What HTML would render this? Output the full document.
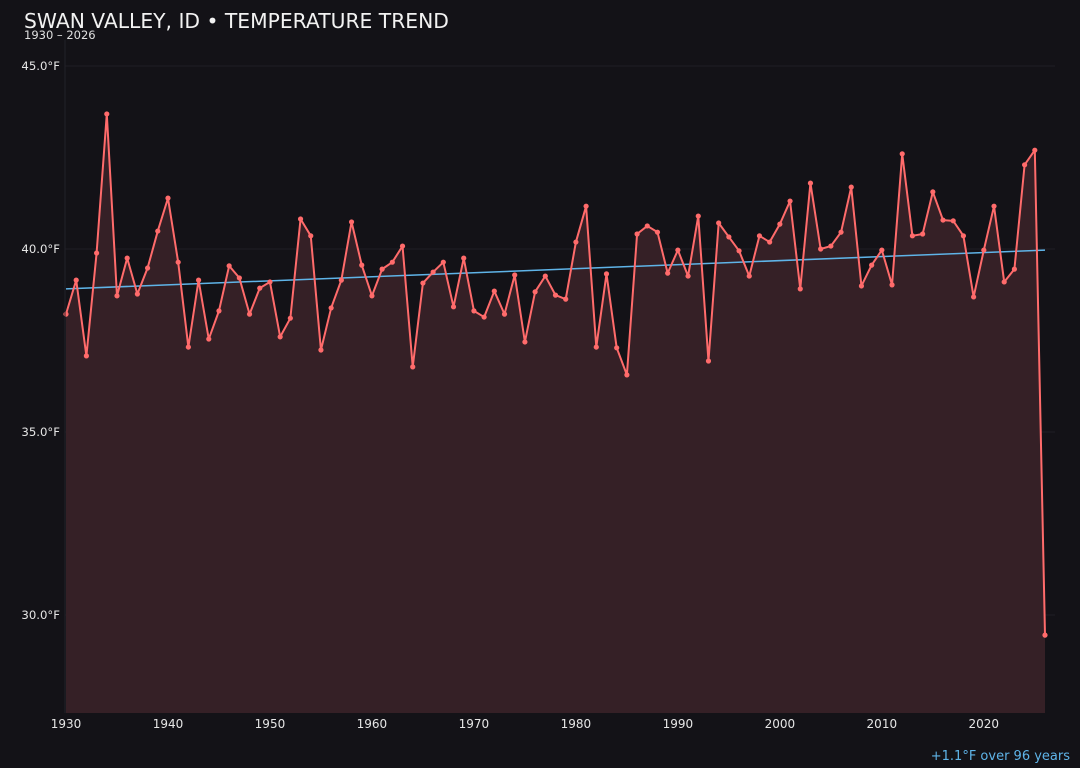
<!DOCTYPE html>
<html><head><meta charset="utf-8"><style>
html,body{margin:0;padding:0;background:#131217;width:1080px;height:768px;overflow:hidden;font-family:"DejaVu Sans","Liberation Sans",sans-serif}
svg text{font-family:"DejaVu Sans","Liberation Sans",sans-serif}
</style></head><body>
<svg id="chart" width="1080" height="768" xmlns="http://www.w3.org/2000/svg">
<rect width="1080" height="768" fill="#131217"/>
<text x="24" y="28" fill="#f2f2f2" font-size="20.3">SWAN VALLEY, ID • TEMPERATURE TREND</text>
<text x="24" y="39" fill="#e0e0e0" font-size="11.5">1930 – 2026</text>
<g id="grid"></g><g id="marks"></g><g id="axes"></g>
<text x="1070" y="760" text-anchor="end" fill="#5fb4e8" font-size="13">+1.1°F over 96 years</text>
</svg>
<script>
const startYear = 1930;
const temps = [38.22,39.15,37.08,39.89,43.69,38.72,39.75,38.77,39.48,40.49,41.39,39.64,37.32,39.15,37.54,38.31,39.54,39.21,38.22,38.93,39.1,37.6,38.11,40.82,40.36,37.24,38.39,39.15,40.74,39.56,38.72,39.45,39.64,40.08,36.78,39.07,39.37,39.64,38.42,39.75,38.31,38.14,38.85,38.22,39.29,37.46,38.83,39.26,38.74,38.63,40.19,41.17,37.32,39.32,37.3,36.56,40.41,40.63,40.46,39.34,39.97,39.26,40.9,36.94,40.71,40.33,39.95,39.26,40.36,40.19,40.68,41.31,38.91,41.8,40,40.08,40.46,41.69,38.99,39.56,39.97,39.02,42.6,40.36,40.41,41.56,40.79,40.77,40.36,38.69,39.97,41.17,39.1,39.45,42.3,42.7,29.45];
const trendStart = 38.91;
const trendEnd = 39.97;
const yTicks = [30,35,40,45];
const xTicks = [1930,1940,1950,1960,1970,1980,1990,2000,2010,2020];
const NS="http://www.w3.org/2000/svg";
const L=65,R=1055,T=40,B=713;
const x=yr=>66+(yr-1930)*(1045-66)/96;
const y=v=>249-(v-40)*36.6;
function mk(tag,attrs,parent){const e=document.createElementNS(NS,tag);for(const k in attrs)e.setAttribute(k,attrs[k]);document.getElementById(parent).appendChild(e);return e;}
yTicks.forEach(t=>{
  const g=mk('line',{x1:L,x2:R,y1:y(t),y2:y(t),stroke:'#1f1e24','stroke-width':1},'grid');
  
  
  const tx=mk('text',{x:60,y:y(t)+4,'text-anchor':'end',fill:'#e6e6e6','font-size':11.7},'axes');
  tx.textContent=t.toFixed(1)+'°F';
  
  
});
xTicks.forEach(t=>{
  const tx=mk('text',{x:x(t),y:728,'text-anchor':'middle',fill:'#e6e6e6','font-size':12},'axes');
  tx.textContent=t;
  
  
});
const ax=mk('line',{x1:L,x2:L,y1:T,y2:B,stroke:'#222128'},'axes');


const pts=temps.map((v,i)=>[x(startYear+i),y(v)]);
const lastX=x(startYear+temps.length-1);
const area=mk('path',{d:'M'+x(startYear)+','+B+' L'+pts.map(p=>p.join(',')).join(' L')+' L'+lastX+','+B+' Z',fill:'#352026'},'marks');


const tr=mk('line',{x1:x(startYear),y1:y(trendStart),x2:lastX,y2:y(trendEnd),stroke:'#5fb4e8','stroke-width':1.5},'marks');


const ln=mk('polyline',{points:pts.map(p=>p.join(',')).join(' '),fill:'none',stroke:'#ff6b6b','stroke-width':2,'stroke-linejoin':'round'},'marks');


pts.forEach(p=>{
  const c=mk('circle',{cx:p[0],cy:p[1],r:2.6,fill:'#ff6b6b'},'marks');
  
  
});
</script>
</body></html>
